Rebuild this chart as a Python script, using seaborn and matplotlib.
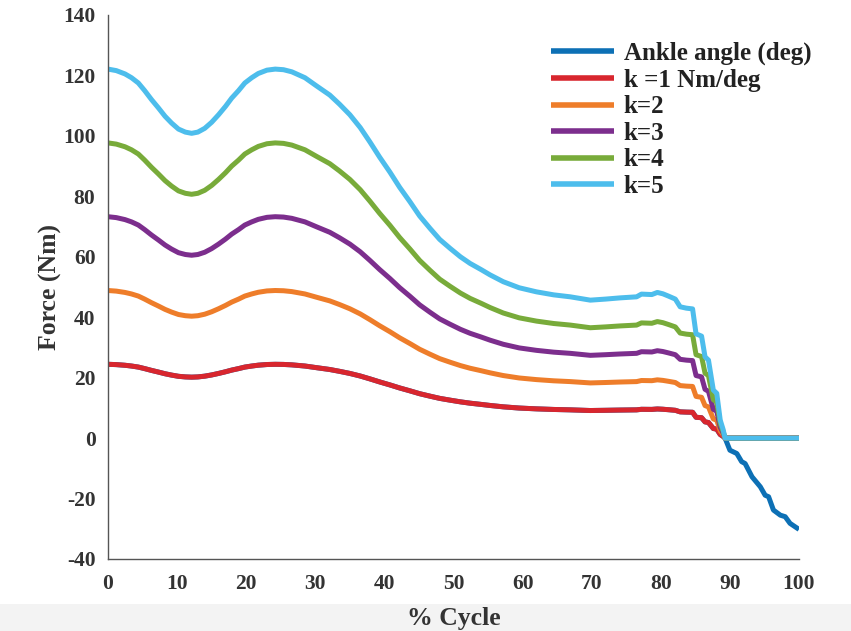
import numpy as np
import pandas as pd
import matplotlib
matplotlib.use("Agg")
import matplotlib.pyplot as plt
import seaborn as sns
from matplotlib.patches import Rectangle

# ---- data ----
cycle = [0, 1.2, 2.46, 3.4, 4.39, 5.3, 6.3, 7.3, 8.25, 9.2, 10.2, 11.2, 12.1,
         13.0, 14.0, 15.0, 16.0, 17.0, 17.9, 18.9, 19.8, 20.8, 21.75, 23.0,
         24.2, 25.4, 26.6, 28.5, 30.2, 32.1, 33.5, 35.0, 36.5, 37.9, 39.3,
         40.8, 42.2, 43.7, 45.1, 46.6, 48.0, 49.5, 51.0, 52.4, 54.0, 55.3,
         57.2, 59.5, 62.0, 64.5, 66.9, 69.8, 72.0, 74.1, 76.5, 77.2, 78.7,
         79.5, 80.3, 81.1, 82.1, 82.8, 83.7, 84.6, 85.1, 85.9, 86.4, 86.9,
         87.6, 88.1, 88.6, 89.0, 89.3, 90.0, 91.0, 91.7, 92.2, 93.2, 94.4,
         95.1, 95.6, 96.3, 97.3, 98.0, 98.7, 100]
ankle_angle = [24.42, 24.32, 24.1, 23.85, 23.5, 23.0, 22.4, 21.85, 21.3, 20.85,
               20.45, 20.25, 20.17, 20.25, 20.5, 20.9, 21.4, 21.95, 22.5, 23.0,
               23.5, 23.85, 24.13, 24.35, 24.42, 24.38, 24.24, 23.85, 23.3,
               22.7, 22.1, 21.4, 20.55, 19.6, 18.6, 17.6, 16.6, 15.64, 14.7,
               13.88, 13.15, 12.56, 12.0, 11.56, 11.15, 10.8, 10.35, 9.95, 9.68,
               9.48, 9.35, 9.13, 9.2, 9.28, 9.35, 9.53, 9.5, 9.64, 9.55, 9.4,
               9.2, 8.69, 8.6, 8.55, 6.9, 6.75, 5.38, 5.16, 3.18, 2.96, 1.19,
               0.6, 0.0, -4.0, -5.1, -7.8, -8.4, -12.8, -16.1, -18.9, -19.4,
               -23.8, -25.5, -26.0, -28.2, -30.2]
stiffness = [1, 2, 3, 4, 5]
labels = ["Ankle angle (deg)", "k =1 Nm/deg", "k=2", "k=3", "k=4", "k=5"]
colors = ["#0D70B5", "#D8262E", "#EE7D2A", "#7C2E8D", "#78AB3A", "#4DBDEC"]
x_ticks = list(range(0, 101, 10))
y_ticks = list(range(-40, 141, 20))

# ---- long table ----
cyc = np.array(cycle, dtype=float)
ang = np.array(ankle_angle, dtype=float)
frames = [pd.DataFrame({"cycle": cyc, "value": ang, "series": labels[0]})]
for k, lab in zip(stiffness, labels[1:]):
    frames.append(pd.DataFrame({"cycle": cyc, "value": k * np.clip(ang, 0, None),
                                "series": lab}))
df = pd.concat(frames, ignore_index=True)

sns.set_theme(style="white")
plt.rcParams["font.family"] = ["Liberation Serif", "DejaVu Serif"]
plt.rcParams["font.weight"] = "bold"
plt.rcParams["axes.unicode_minus"] = False

fig = plt.figure(figsize=(8.51, 6.31), dpi=100)
fig.patches.append(Rectangle((0, 0), 1, 27 / 631, transform=fig.transFigure,
                             facecolor="#F3F3F3", edgecolor="none", zorder=-10))
ax = fig.add_axes([108 / 851, 1 - 559 / 631, (799 - 108) / 851, (559 - 15) / 631])
ax.set_facecolor("none")

for lab, col in zip(labels, colors):
    sub = df[df["series"] == lab]
    sns.lineplot(data=sub, x="cycle", y="value", color=col, lw=3.6,
                 label=lab, ax=ax, sort=False, solid_joinstyle="round",
                 solid_capstyle="butt")

ax.set_xlim(0, 100)
ax.set_ylim(-40, 140)
ax.set_xticks(x_ticks)
ax.set_yticks(y_ticks)
txtc = "#333333"
ax.tick_params(direction="in", length=6, width=1, colors="#555555",
               labelcolor=txtc, labelsize=15.5)
ax.tick_params(axis="x", pad=11)
ax.tick_params(axis="y", pad=9)
for t in ax.get_xticklabels() + ax.get_yticklabels():
    t.set_fontweight("bold")
for s in ["top", "right"]:
    ax.spines[s].set_visible(False)
for s in ["left", "bottom"]:
    ax.spines[s].set_color("#555555")
    ax.spines[s].set_linewidth(1.0)

ax.set_xlabel("% Cycle", fontsize=18.5, fontweight="bold", color=txtc, labelpad=9)
ax.set_ylabel("Force (Nm)", fontsize=18.5, fontweight="bold", color=txtc, labelpad=1)

leg = ax.legend(loc="upper left", bbox_to_anchor=((551 - 108) / 691, (559 - 42) / 544),
                frameon=False, fontsize=18, handlelength=2.5, handletextpad=0.4,
                labelspacing=0.14, borderaxespad=0, borderpad=0)
for t in leg.get_texts():
    t.set_fontweight("bold")
    t.set_color("#222222")
for h in leg.get_lines():
    h.set_linewidth(4)

fig.savefig("out.png", dpi=100)
